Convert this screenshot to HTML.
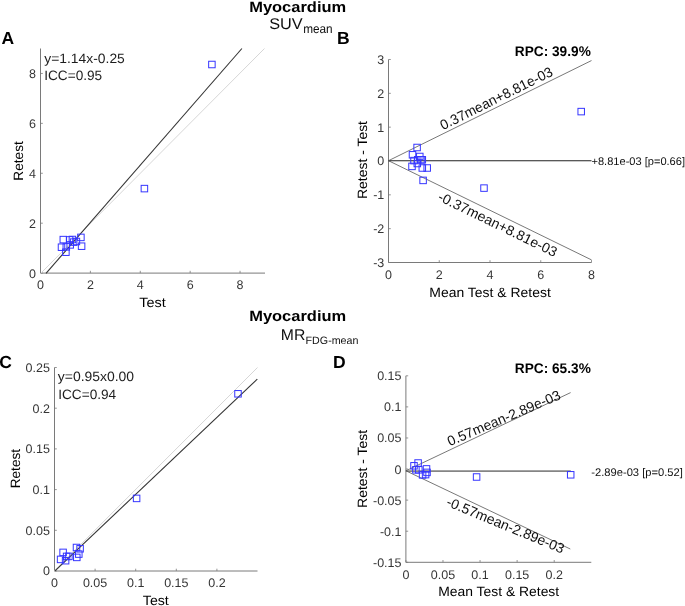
<!DOCTYPE html><html><head><meta charset="utf-8"><style>html,body{margin:0;padding:0;background:#fff;}svg{display:block;}text{font-family:"Liberation Sans", sans-serif;text-rendering:geometricPrecision;}</style></head><body>
<svg width="685" height="606" viewBox="0 0 685 606">
<defs><filter id="g" filterUnits="userSpaceOnUse" x="0" y="0" width="685" height="606"><feColorMatrix type="saturate" values="0"/></filter><filter id="bl" filterUnits="userSpaceOnUse" x="0" y="0" width="685" height="606"><feGaussianBlur stdDeviation="0.32"/></filter></defs>
<rect width="685" height="606" fill="#fff"/>
<g filter="url(#bl)">
<line x1="40.50" y1="273.10" x2="265.00" y2="273.10" stroke="#7a7a7a" stroke-width="1"/>
<line x1="40.50" y1="273.10" x2="40.50" y2="48.50" stroke="#7a7a7a" stroke-width="1"/>
<line x1="40.50" y1="273.10" x2="40.50" y2="270.80" stroke="#7a7a7a" stroke-width="0.8"/>
<line x1="90.39" y1="273.10" x2="90.39" y2="270.80" stroke="#7a7a7a" stroke-width="0.8"/>
<line x1="140.28" y1="273.10" x2="140.28" y2="270.80" stroke="#7a7a7a" stroke-width="0.8"/>
<line x1="190.17" y1="273.10" x2="190.17" y2="270.80" stroke="#7a7a7a" stroke-width="0.8"/>
<line x1="240.06" y1="273.10" x2="240.06" y2="270.80" stroke="#7a7a7a" stroke-width="0.8"/>
<line x1="40.50" y1="273.10" x2="42.80" y2="273.10" stroke="#7a7a7a" stroke-width="0.8"/>
<line x1="40.50" y1="223.19" x2="42.80" y2="223.19" stroke="#7a7a7a" stroke-width="0.8"/>
<line x1="40.50" y1="173.28" x2="42.80" y2="173.28" stroke="#7a7a7a" stroke-width="0.8"/>
<line x1="40.50" y1="123.37" x2="42.80" y2="123.37" stroke="#7a7a7a" stroke-width="0.8"/>
<line x1="40.50" y1="73.46" x2="42.80" y2="73.46" stroke="#7a7a7a" stroke-width="0.8"/>
<line x1="40.50" y1="273.50" x2="264.50" y2="48.50" stroke="#d6d6d6" stroke-width="1"/>
<line x1="46.00" y1="273.30" x2="241.90" y2="48.50" stroke="#333" stroke-width="1.1"/>
<rect x="208.65" y="61.25" width="6.5" height="6.5" fill="none" stroke="#3535ff" stroke-width="1"/>
<rect x="141.15" y="185.35" width="6.5" height="6.5" fill="none" stroke="#3535ff" stroke-width="1"/>
<rect x="60.05" y="236.35" width="6.5" height="6.5" fill="none" stroke="#3535ff" stroke-width="1"/>
<rect x="58.25" y="243.95" width="6.5" height="6.5" fill="none" stroke="#3535ff" stroke-width="1"/>
<rect x="62.65" y="248.95" width="6.5" height="6.5" fill="none" stroke="#3535ff" stroke-width="1"/>
<rect x="63.05" y="243.65" width="6.5" height="6.5" fill="none" stroke="#3535ff" stroke-width="1"/>
<rect x="66.35" y="236.65" width="6.5" height="6.5" fill="none" stroke="#3535ff" stroke-width="1"/>
<rect x="66.95" y="241.65" width="6.5" height="6.5" fill="none" stroke="#3535ff" stroke-width="1"/>
<rect x="69.15" y="236.25" width="6.5" height="6.5" fill="none" stroke="#3535ff" stroke-width="1"/>
<rect x="70.35" y="238.85" width="6.5" height="6.5" fill="none" stroke="#3535ff" stroke-width="1"/>
<rect x="73.15" y="238.25" width="6.5" height="6.5" fill="none" stroke="#3535ff" stroke-width="1"/>
<rect x="77.65" y="234.15" width="6.5" height="6.5" fill="none" stroke="#3535ff" stroke-width="1"/>
<rect x="78.35" y="242.95" width="6.5" height="6.5" fill="none" stroke="#3535ff" stroke-width="1"/>
<line x1="388.50" y1="262.50" x2="591.50" y2="262.50" stroke="#7a7a7a" stroke-width="1"/>
<line x1="388.50" y1="262.50" x2="388.50" y2="59.50" stroke="#7a7a7a" stroke-width="1"/>
<line x1="388.50" y1="262.50" x2="388.50" y2="260.20" stroke="#7a7a7a" stroke-width="0.8"/>
<line x1="439.25" y1="262.50" x2="439.25" y2="260.20" stroke="#7a7a7a" stroke-width="0.8"/>
<line x1="490.00" y1="262.50" x2="490.00" y2="260.20" stroke="#7a7a7a" stroke-width="0.8"/>
<line x1="540.75" y1="262.50" x2="540.75" y2="260.20" stroke="#7a7a7a" stroke-width="0.8"/>
<line x1="591.50" y1="262.50" x2="591.50" y2="260.20" stroke="#7a7a7a" stroke-width="0.8"/>
<line x1="388.50" y1="262.50" x2="390.80" y2="262.50" stroke="#7a7a7a" stroke-width="0.8"/>
<line x1="388.50" y1="228.67" x2="390.80" y2="228.67" stroke="#7a7a7a" stroke-width="0.8"/>
<line x1="388.50" y1="194.83" x2="390.80" y2="194.83" stroke="#7a7a7a" stroke-width="0.8"/>
<line x1="388.50" y1="161.00" x2="390.80" y2="161.00" stroke="#7a7a7a" stroke-width="0.8"/>
<line x1="388.50" y1="127.17" x2="390.80" y2="127.17" stroke="#7a7a7a" stroke-width="0.8"/>
<line x1="388.50" y1="93.33" x2="390.80" y2="93.33" stroke="#7a7a7a" stroke-width="0.8"/>
<line x1="388.50" y1="59.50" x2="390.80" y2="59.50" stroke="#7a7a7a" stroke-width="0.8"/>
<line x1="388.50" y1="160.70" x2="591.50" y2="160.70" stroke="#222" stroke-width="1.1"/>
<line x1="388.50" y1="160.70" x2="591.50" y2="60.56" stroke="#555" stroke-width="0.8"/>
<line x1="388.50" y1="160.70" x2="591.50" y2="259.90" stroke="#555" stroke-width="0.8"/>
<rect x="413.85" y="144.25" width="6.5" height="6.5" fill="none" stroke="#3535ff" stroke-width="1"/>
<rect x="409.25" y="151.55" width="6.5" height="6.5" fill="none" stroke="#3535ff" stroke-width="1"/>
<rect x="416.55" y="153.25" width="6.5" height="6.5" fill="none" stroke="#3535ff" stroke-width="1"/>
<rect x="410.75" y="157.35" width="6.5" height="6.5" fill="none" stroke="#3535ff" stroke-width="1"/>
<rect x="414.45" y="156.55" width="6.5" height="6.5" fill="none" stroke="#3535ff" stroke-width="1"/>
<rect x="417.75" y="156.55" width="6.5" height="6.5" fill="none" stroke="#3535ff" stroke-width="1"/>
<rect x="419.05" y="156.55" width="6.5" height="6.5" fill="none" stroke="#3535ff" stroke-width="1"/>
<rect x="408.75" y="163.15" width="6.5" height="6.5" fill="none" stroke="#3535ff" stroke-width="1"/>
<rect x="414.05" y="160.25" width="6.5" height="6.5" fill="none" stroke="#3535ff" stroke-width="1"/>
<rect x="419.05" y="164.75" width="6.5" height="6.5" fill="none" stroke="#3535ff" stroke-width="1"/>
<rect x="423.95" y="164.75" width="6.5" height="6.5" fill="none" stroke="#3535ff" stroke-width="1"/>
<rect x="419.85" y="177.15" width="6.5" height="6.5" fill="none" stroke="#3535ff" stroke-width="1"/>
<rect x="577.95" y="108.35" width="6.5" height="6.5" fill="none" stroke="#3535ff" stroke-width="1"/>
<rect x="480.75" y="184.85" width="6.5" height="6.5" fill="none" stroke="#3535ff" stroke-width="1"/>
<line x1="54.50" y1="571.00" x2="257.50" y2="571.00" stroke="#7a7a7a" stroke-width="1"/>
<line x1="54.50" y1="571.00" x2="54.50" y2="367.50" stroke="#7a7a7a" stroke-width="1"/>
<line x1="54.50" y1="571.00" x2="54.50" y2="568.70" stroke="#7a7a7a" stroke-width="0.8"/>
<line x1="95.10" y1="571.00" x2="95.10" y2="568.70" stroke="#7a7a7a" stroke-width="0.8"/>
<line x1="135.70" y1="571.00" x2="135.70" y2="568.70" stroke="#7a7a7a" stroke-width="0.8"/>
<line x1="176.30" y1="571.00" x2="176.30" y2="568.70" stroke="#7a7a7a" stroke-width="0.8"/>
<line x1="216.90" y1="571.00" x2="216.90" y2="568.70" stroke="#7a7a7a" stroke-width="0.8"/>
<line x1="54.50" y1="571.00" x2="56.80" y2="571.00" stroke="#7a7a7a" stroke-width="0.8"/>
<line x1="54.50" y1="530.30" x2="56.80" y2="530.30" stroke="#7a7a7a" stroke-width="0.8"/>
<line x1="54.50" y1="489.60" x2="56.80" y2="489.60" stroke="#7a7a7a" stroke-width="0.8"/>
<line x1="54.50" y1="448.90" x2="56.80" y2="448.90" stroke="#7a7a7a" stroke-width="0.8"/>
<line x1="54.50" y1="408.20" x2="56.80" y2="408.20" stroke="#7a7a7a" stroke-width="0.8"/>
<line x1="54.50" y1="367.50" x2="56.80" y2="367.50" stroke="#7a7a7a" stroke-width="0.8"/>
<line x1="54.50" y1="570.70" x2="257.50" y2="367.50" stroke="#d6d6d6" stroke-width="1"/>
<line x1="55.00" y1="570.80" x2="257.30" y2="379.20" stroke="#333" stroke-width="1.1"/>
<rect x="234.75" y="390.55" width="6.5" height="6.5" fill="none" stroke="#3535ff" stroke-width="1"/>
<rect x="133.35" y="495.15" width="6.5" height="6.5" fill="none" stroke="#3535ff" stroke-width="1"/>
<rect x="59.85" y="549.15" width="6.5" height="6.5" fill="none" stroke="#3535ff" stroke-width="1"/>
<rect x="57.35" y="556.15" width="6.5" height="6.5" fill="none" stroke="#3535ff" stroke-width="1"/>
<rect x="62.35" y="557.45" width="6.5" height="6.5" fill="none" stroke="#3535ff" stroke-width="1"/>
<rect x="63.35" y="553.15" width="6.5" height="6.5" fill="none" stroke="#3535ff" stroke-width="1"/>
<rect x="65.65" y="553.15" width="6.5" height="6.5" fill="none" stroke="#3535ff" stroke-width="1"/>
<rect x="73.25" y="544.25" width="6.5" height="6.5" fill="none" stroke="#3535ff" stroke-width="1"/>
<rect x="76.85" y="545.55" width="6.5" height="6.5" fill="none" stroke="#3535ff" stroke-width="1"/>
<rect x="75.55" y="550.85" width="6.5" height="6.5" fill="none" stroke="#3535ff" stroke-width="1"/>
<rect x="73.55" y="554.15" width="6.5" height="6.5" fill="none" stroke="#3535ff" stroke-width="1"/>
<line x1="405.90" y1="562.30" x2="591.30" y2="562.30" stroke="#7a7a7a" stroke-width="1"/>
<line x1="405.90" y1="562.30" x2="405.90" y2="375.80" stroke="#7a7a7a" stroke-width="1"/>
<line x1="405.90" y1="562.30" x2="405.90" y2="560.00" stroke="#7a7a7a" stroke-width="0.8"/>
<line x1="442.98" y1="562.30" x2="442.98" y2="560.00" stroke="#7a7a7a" stroke-width="0.8"/>
<line x1="480.06" y1="562.30" x2="480.06" y2="560.00" stroke="#7a7a7a" stroke-width="0.8"/>
<line x1="517.14" y1="562.30" x2="517.14" y2="560.00" stroke="#7a7a7a" stroke-width="0.8"/>
<line x1="554.22" y1="562.30" x2="554.22" y2="560.00" stroke="#7a7a7a" stroke-width="0.8"/>
<line x1="405.90" y1="562.30" x2="408.20" y2="562.30" stroke="#7a7a7a" stroke-width="0.8"/>
<line x1="405.90" y1="531.22" x2="408.20" y2="531.22" stroke="#7a7a7a" stroke-width="0.8"/>
<line x1="405.90" y1="500.13" x2="408.20" y2="500.13" stroke="#7a7a7a" stroke-width="0.8"/>
<line x1="405.90" y1="469.05" x2="408.20" y2="469.05" stroke="#7a7a7a" stroke-width="0.8"/>
<line x1="405.90" y1="437.97" x2="408.20" y2="437.97" stroke="#7a7a7a" stroke-width="0.8"/>
<line x1="405.90" y1="406.88" x2="408.20" y2="406.88" stroke="#7a7a7a" stroke-width="0.8"/>
<line x1="405.90" y1="375.80" x2="408.20" y2="375.80" stroke="#7a7a7a" stroke-width="0.8"/>
<line x1="405.90" y1="471.10" x2="570.80" y2="471.10" stroke="#858585" stroke-width="1.6"/>
<line x1="405.90" y1="470.80" x2="570.60" y2="392.60" stroke="#555" stroke-width="0.8"/>
<line x1="405.90" y1="470.80" x2="570.30" y2="549.00" stroke="#555" stroke-width="0.8"/>
<rect x="414.85" y="459.75" width="6.5" height="6.5" fill="none" stroke="#3535ff" stroke-width="1"/>
<rect x="410.75" y="462.55" width="6.5" height="6.5" fill="none" stroke="#3535ff" stroke-width="1"/>
<rect x="412.65" y="466.55" width="6.5" height="6.5" fill="none" stroke="#3535ff" stroke-width="1"/>
<rect x="415.55" y="466.55" width="6.5" height="6.5" fill="none" stroke="#3535ff" stroke-width="1"/>
<rect x="423.25" y="465.65" width="6.5" height="6.5" fill="none" stroke="#3535ff" stroke-width="1"/>
<rect x="423.75" y="469.15" width="6.5" height="6.5" fill="none" stroke="#3535ff" stroke-width="1"/>
<rect x="419.35" y="471.65" width="6.5" height="6.5" fill="none" stroke="#3535ff" stroke-width="1"/>
<rect x="422.35" y="471.35" width="6.5" height="6.5" fill="none" stroke="#3535ff" stroke-width="1"/>
<rect x="473.35" y="473.75" width="6.5" height="6.5" fill="none" stroke="#3535ff" stroke-width="1"/>
<rect x="567.45" y="471.55" width="6.5" height="6.5" fill="none" stroke="#3535ff" stroke-width="1"/>
<g filter="url(#g)">
<text x="249.20" y="11.80" font-size="15" fill="#000" font-weight="bold" textLength="97" lengthAdjust="spacingAndGlyphs">Myocardium</text>
<text x="269.20" y="28.90" font-size="15.5" fill="#111" textLength="33.5" lengthAdjust="spacingAndGlyphs">SUV</text>
<text x="303.20" y="32.80" font-size="12.5" fill="#111" textLength="29.5" lengthAdjust="spacingAndGlyphs">mean</text>
<text x="1.60" y="43.60" font-size="17.5" fill="#000" font-weight="bold">A</text>
<text x="337.10" y="43.60" font-size="17.5" fill="#000" font-weight="bold">B</text>
<text x="40.50" y="289.40" font-size="12.5" text-anchor="middle" fill="#363636">0</text>
<text x="90.39" y="289.40" font-size="12.5" text-anchor="middle" fill="#363636">2</text>
<text x="140.28" y="289.40" font-size="12.5" text-anchor="middle" fill="#363636">4</text>
<text x="190.17" y="289.40" font-size="12.5" text-anchor="middle" fill="#363636">6</text>
<text x="240.06" y="289.40" font-size="12.5" text-anchor="middle" fill="#363636">8</text>
<text x="35.90" y="277.58" font-size="12.5" text-anchor="end" fill="#363636">0</text>
<text x="35.90" y="227.66" font-size="12.5" text-anchor="end" fill="#363636">2</text>
<text x="35.90" y="177.75" font-size="12.5" text-anchor="end" fill="#363636">4</text>
<text x="35.90" y="127.84" font-size="12.5" text-anchor="end" fill="#363636">6</text>
<text x="35.90" y="77.93" font-size="12.5" text-anchor="end" fill="#363636">8</text>
<text x="152.60" y="307.00" font-size="13.5" text-anchor="middle" textLength="26.5" lengthAdjust="spacingAndGlyphs">Test</text>
<text x="23.30" y="160.90" font-size="13.5" text-anchor="middle" textLength="39.5" lengthAdjust="spacingAndGlyphs" transform="rotate(-90 23.30 160.90)">Retest</text>
<text x="44.30" y="62.60" font-size="13.5" fill="#1c1c1c" textLength="80.5" lengthAdjust="spacingAndGlyphs">y=1.14x-0.25</text>
<text x="44.20" y="79.50" font-size="13.5" fill="#1c1c1c" textLength="58" lengthAdjust="spacingAndGlyphs">ICC=0.95</text>
<text x="388.50" y="278.80" font-size="12.5" text-anchor="middle" fill="#363636">0</text>
<text x="439.25" y="278.80" font-size="12.5" text-anchor="middle" fill="#363636">2</text>
<text x="490.00" y="278.80" font-size="12.5" text-anchor="middle" fill="#363636">4</text>
<text x="540.75" y="278.80" font-size="12.5" text-anchor="middle" fill="#363636">6</text>
<text x="591.50" y="278.80" font-size="12.5" text-anchor="middle" fill="#363636">8</text>
<text x="384.30" y="266.98" font-size="12.5" text-anchor="end" fill="#363636">-3</text>
<text x="384.30" y="233.14" font-size="12.5" text-anchor="end" fill="#363636">-2</text>
<text x="384.30" y="199.31" font-size="12.5" text-anchor="end" fill="#363636">-1</text>
<text x="384.30" y="165.47" font-size="12.5" text-anchor="end" fill="#363636">0</text>
<text x="384.30" y="131.64" font-size="12.5" text-anchor="end" fill="#363636">1</text>
<text x="384.30" y="97.81" font-size="12.5" text-anchor="end" fill="#363636">2</text>
<text x="384.30" y="63.98" font-size="12.5" text-anchor="end" fill="#363636">3</text>
<text x="490.10" y="296.70" font-size="13.5" text-anchor="middle" textLength="121.5" lengthAdjust="spacingAndGlyphs">Mean Test &amp; Retest</text>
<text x="367.10" y="160.00" font-size="13.5" text-anchor="middle" textLength="78" lengthAdjust="spacingAndGlyphs" transform="rotate(-90 367.10 160.00)">Retest - Test</text>
<text x="590.80" y="55.80" font-size="14" text-anchor="end" fill="#000" font-weight="bold" textLength="76" lengthAdjust="spacingAndGlyphs">RPC: 39.9%</text>
<text x="591.50" y="165.00" font-size="11" fill="#111" textLength="93.5" lengthAdjust="spacingAndGlyphs">+8.81e-03 [p=0.66]</text>
<text x="443.00" y="130.30" font-size="14" fill="#111" textLength="124" lengthAdjust="spacingAndGlyphs" transform="rotate(-26.5 443.00 130.30)">0.37mean+8.81e-03</text>
<text x="437.00" y="200.00" font-size="14" fill="#111" textLength="130.5" lengthAdjust="spacingAndGlyphs" transform="rotate(26.0 437.00 200.00)">-0.37mean+8.81e-03</text>
<text x="249.20" y="320.70" font-size="15" fill="#000" font-weight="bold" textLength="97" lengthAdjust="spacingAndGlyphs">Myocardium</text>
<text x="280.80" y="340.30" font-size="15.5" fill="#111" textLength="24.5" lengthAdjust="spacingAndGlyphs">MR</text>
<text x="305.60" y="343.70" font-size="10.7" fill="#111" textLength="52.8" lengthAdjust="spacingAndGlyphs">FDG-mean</text>
<text x="-0.80" y="368.10" font-size="17.5" fill="#000" font-weight="bold">C</text>
<text x="333.10" y="368.10" font-size="17.5" fill="#000" font-weight="bold">D</text>
<text x="54.50" y="587.20" font-size="12.5" text-anchor="middle" fill="#363636">0</text>
<text x="95.10" y="587.20" font-size="12.5" text-anchor="middle" fill="#363636">0.05</text>
<text x="135.70" y="587.20" font-size="12.5" text-anchor="middle" fill="#363636">0.1</text>
<text x="176.30" y="587.20" font-size="12.5" text-anchor="middle" fill="#363636">0.15</text>
<text x="216.90" y="587.20" font-size="12.5" text-anchor="middle" fill="#363636">0.2</text>
<text x="49.90" y="575.48" font-size="12.5" text-anchor="end" fill="#363636">0</text>
<text x="49.90" y="534.77" font-size="12.5" text-anchor="end" fill="#363636">0.05</text>
<text x="49.90" y="494.08" font-size="12.5" text-anchor="end" fill="#363636">0.1</text>
<text x="49.90" y="453.38" font-size="12.5" text-anchor="end" fill="#363636">0.15</text>
<text x="49.90" y="412.68" font-size="12.5" text-anchor="end" fill="#363636">0.2</text>
<text x="49.90" y="371.98" font-size="12.5" text-anchor="end" fill="#363636">0.25</text>
<text x="155.80" y="605.00" font-size="13.5" text-anchor="middle" textLength="26" lengthAdjust="spacingAndGlyphs">Test</text>
<text x="19.90" y="468.60" font-size="13.5" text-anchor="middle" textLength="39.5" lengthAdjust="spacingAndGlyphs" transform="rotate(-90 19.90 468.60)">Retest</text>
<text x="57.80" y="381.20" font-size="13.5" fill="#1c1c1c" textLength="76.3" lengthAdjust="spacingAndGlyphs">y=0.95x0.00</text>
<text x="58.20" y="398.90" font-size="13.5" fill="#1c1c1c" textLength="58" lengthAdjust="spacingAndGlyphs">ICC=0.94</text>
<text x="405.90" y="578.60" font-size="12.5" text-anchor="middle" fill="#363636">0</text>
<text x="442.98" y="578.60" font-size="12.5" text-anchor="middle" fill="#363636">0.05</text>
<text x="480.06" y="578.60" font-size="12.5" text-anchor="middle" fill="#363636">0.1</text>
<text x="517.14" y="578.60" font-size="12.5" text-anchor="middle" fill="#363636">0.15</text>
<text x="554.22" y="578.60" font-size="12.5" text-anchor="middle" fill="#363636">0.2</text>
<text x="401.50" y="566.77" font-size="12.5" text-anchor="end" fill="#363636">-0.15</text>
<text x="401.50" y="535.69" font-size="12.5" text-anchor="end" fill="#363636">-0.1</text>
<text x="401.50" y="504.61" font-size="12.5" text-anchor="end" fill="#363636">-0.05</text>
<text x="401.50" y="473.52" font-size="12.5" text-anchor="end" fill="#363636">0</text>
<text x="401.50" y="442.44" font-size="12.5" text-anchor="end" fill="#363636">0.05</text>
<text x="401.50" y="411.36" font-size="12.5" text-anchor="end" fill="#363636">0.1</text>
<text x="401.50" y="380.28" font-size="12.5" text-anchor="end" fill="#363636">0.15</text>
<text x="498.70" y="596.40" font-size="13.5" text-anchor="middle" textLength="121" lengthAdjust="spacingAndGlyphs">Mean Test &amp; Retest</text>
<text x="367.40" y="468.90" font-size="13.5" text-anchor="middle" textLength="78" lengthAdjust="spacingAndGlyphs" transform="rotate(-90 367.40 468.90)">Retest - Test</text>
<text x="590.80" y="372.80" font-size="14" text-anchor="end" fill="#000" font-weight="bold" textLength="76" lengthAdjust="spacingAndGlyphs">RPC: 65.3%</text>
<text x="591.30" y="476.30" font-size="11" fill="#111" textLength="91.5" lengthAdjust="spacingAndGlyphs">-2.89e-03 [p=0.52]</text>
<text x="449.80" y="446.20" font-size="14" fill="#111" textLength="121.5" lengthAdjust="spacingAndGlyphs" transform="rotate(-23 449.80 446.20)">0.57mean-2.89e-03</text>
<text x="445.50" y="505.60" font-size="14" fill="#111" textLength="126" lengthAdjust="spacingAndGlyphs" transform="rotate(22.4 445.50 505.60)">-0.57mean-2.89e-03</text>
</g>
</g>
</svg></body></html>
